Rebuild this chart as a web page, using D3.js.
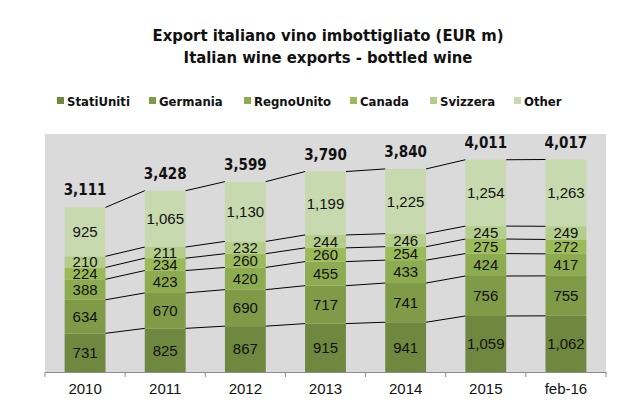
<!DOCTYPE html>
<html>
<head>
<meta charset="utf-8">
<script src="https://cdn.jsdelivr.net/npm/d3@7"></script>
<style>
  body { margin: 0; background: #fff; }
  svg text { font-family: "Liberation Sans", Arial, sans-serif; }
  .narrow { font-family: "Liberation Sans Narrow", "DejaVu Sans Condensed", "Liberation Sans", sans-serif; font-weight: bold; }
</style>
</head>
<body>
<svg id="chart" width="625" height="413"></svg>
<script>
// ---- data
var years = ["2010", "2011", "2012", "2013", "2014", "2015", "feb-16"];
var series = ["StatiUniti", "Germania", "RegnoUnito", "Canada", "Svizzera", "Other"];
var statiUniti = [731, 825, 867, 915, 941, 1059, 1062];
var germania   = [634, 670, 690, 717, 741, 756, 755];
var regnoUnito = [388, 423, 420, 455, 433, 424, 417];
var canada     = [224, 234, 260, 260, 254, 275, 272];
var svizzera   = [210, 211, 232, 244, 246, 245, 249];
var other      = [925, 1065, 1130, 1199, 1225, 1254, 1263];
var totals     = [3111, 3428, 3599, 3790, 3840, 4011, 4017];
var colors = ["#6f883f", "#7f9b48", "#8dac50", "#9bbb59", "#b4cd8a", "#c7d9ae"];

// build rows for d3.stack
var rows = years.map(function(y, i) {
  return { year: y, StatiUniti: statiUniti[i], Germania: germania[i], RegnoUnito: regnoUnito[i],
           Canada: canada[i], Svizzera: svizzera[i], Other: other[i], total: totals[i] };
});
var stacked = d3.stack().keys(series)(rows);

var svg = d3.select("#chart");
var plotL = 45, plotR = 606, plotT = 134, plotB = 372;

// band for the whole category (ticks sit on its edges), band for the bars
var xCat = d3.scaleBand().domain(years).range([plotL, plotR]).padding(0);
var x = d3.scaleBand().domain(years).range([plotL, plotR]).paddingInner(0.49).paddingOuter(0.245);
var y = d3.scaleLinear().domain([0, 4500]).range([plotB, plotT]);
var color = d3.scaleOrdinal().domain(series).range(colors);

// titles
svg.append("text").attr("class", "narrow").attr("x", 328).attr("y", 41)
  .attr("text-anchor", "middle").style("font-size", "16.5px").attr("fill", "#111")
  .text("Export italiano vino imbottigliato (EUR m)");
svg.append("text").attr("class", "narrow").attr("x", 328).attr("y", 63)
  .attr("text-anchor", "middle").style("font-size", "16.5px").attr("fill", "#111")
  .text("Italian wine exports - bottled wine");

// legend
var legendX = [57, 149, 244, 350, 430, 514];
var leg = svg.append("g").selectAll("g").data(series).enter().append("g")
  .attr("transform", function(d, i) { return "translate(" + legendX[i] + ",101)"; });
leg.append("rect").attr("x", 0).attr("y", -4).attr("width", 7).attr("height", 7)
  .attr("fill", function(d) { return color(d); });
leg.append("text").attr("class", "narrow").attr("x", 10).attr("y", 5)
  .style("font-size", "13px").attr("fill", "#111").text(function(d) { return d; });

// plot area
svg.append("rect").attr("x", plotL).attr("y", plotT).attr("width", plotR - plotL).attr("height", plotB - plotT)
  .attr("fill", "#dadada");

// bars
var layers = svg.append("g").selectAll("g").data(stacked).enter().append("g")
  .attr("fill", function(d) { return color(d.key); });
layers.selectAll("rect").data(function(d) { return d; }).enter().append("rect")
  .attr("x", function(d) { return x(d.data.year); })
  .attr("y", function(d) { return y(d[1]); })
  .attr("width", x.bandwidth())
  .attr("height", function(d) { return y(d[0]) - y(d[1]); });

// series lines between bars
var fmt = d3.format(",");
var lines = svg.append("g").attr("stroke", "#000").attr("stroke-width", 1).attr("fill", "none");
stacked.forEach(function(layer) {
  for (var i = 0; i < layer.length - 1; i++) {
    lines.append("line")
      .attr("x1", x(years[i]) + x.bandwidth()).attr("y1", y(layer[i][1]))
      .attr("x2", x(years[i + 1])).attr("y2", y(layer[i + 1][1]));
  }
});

// segment labels
svg.append("g").selectAll("g").data(stacked).enter().append("g")
  .selectAll("text").data(function(d) { return d; }).enter().append("text")
  .attr("x", function(d) { return x(d.data.year) + x.bandwidth() / 2; })
  .attr("y", function(d) { return (y(d[0]) + y(d[1])) / 2; })
  .attr("dy", "0.36em")
  .attr("text-anchor", "middle").attr("fill", "#111").style("font-size", "15px")
  .text(function(d) { return fmt(d[1] - d[0]); });

// totals
svg.append("g").selectAll("text").data(rows).enter().append("text")
  .attr("class", "narrow")
  .attr("x", function(d) { return x(d.year) + x.bandwidth() / 2; })
  .attr("y", function(d) { return y(d.total) - 12; })
  .attr("text-anchor", "middle").attr("fill", "#111").style("font-size", "15px")
  .text(function(d) { return fmt(d.total); });

// x axis
var axis = svg.append("g").attr("transform", "translate(0," + plotB + ")")
  .call(d3.axisBottom(xCat).tickSize(0).tickPadding(11));
axis.select(".domain").attr("stroke", "#8c8c8c");
axis.selectAll("text").style("font-size", "15px").attr("fill", "#111")
  .style("font-family", "'Liberation Sans', Arial, sans-serif");
axis.selectAll(".edge").data(years.concat(["end"])).enter().append("line")
  .attr("class", "edge")
  .attr("x1", function(d) { return d === "end" ? plotR : xCat(d); })
  .attr("x2", function(d) { return d === "end" ? plotR : xCat(d); })
  .attr("y1", 0).attr("y2", 5).attr("stroke", "#8c8c8c");
</script>
</body>
</html>
